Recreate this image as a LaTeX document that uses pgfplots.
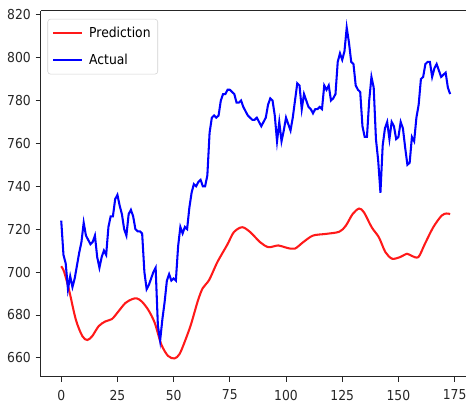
\documentclass[border=0pt]{standalone}
\usepackage{fontspec}
\setmainfont{DejaVu Sans}[FakeStretch=0.9]
\usepackage{pgfplots}
\pgfplotsset{compat=1.18}
\definecolor{spine}{HTML}{262626}
\begin{document}
\begin{tikzpicture}
\begin{axis}[
  scale only axis,
  width=309.6pt, height=266.4pt,
  xmin=-9.2, xmax=179.9, ymin=651.2, ymax=821.8,
  axis x line*=box, axis y line*=left,
  axis line style={spine, line width=0.6pt},
  xtick pos=bottom, ytick pos=left,
  xtick={0,25,...,175}, ytick={660,680,...,820},
  tick align=outside, major tick length=3.6pt,
  tick style={spine, line width=0.6pt},
  /pgf/number format/assume math mode=true,
  ticklabel style={font=\fontsize{10}{12}\selectfont, text=spine},
  xticklabel style={yshift=-2.5pt},
  legend style={at={(axis description cs:0.0163,0.978)}, anchor=north west,
    draw=gray!35, fill=white, fill opacity=0.8, text opacity=1,
    rounded corners=2pt, font=\fontsize{10}{12}\selectfont,
    inner xsep=3.2pt, inner ysep=3.8pt, row sep=6.2pt},
  legend cell align=left,
  legend image code/.code={\draw[#1] (0pt,0pt) -- (21pt,0pt); \path (23.5pt,0pt);},
]
\addplot[red!90!white, line width=1.5pt, smooth, tension=0.5] coordinates {
(0,702.7) (1.3,700.1) (3.5,691.6) (6.5,677.8) (9.4,670.1) (11.6,668.3) (13.8,670.1) (16.7,674.8) (19.7,677) (22.6,678.1) (25.5,681.7) (28.5,685.5) (31.4,687.3) (33.6,687.7) (35.8,686.3) (38.7,682.4) (41.6,676.3) (44.5,666.3) (47.5,660.9) (50.4,659.7) (52.6,661.7) (54.8,667.1) (57.7,675.5) (60.7,686.3) (62.9,692.4) (65.8,696.3) (69.5,704.7) (73.9,712.8) (76.8,718.6) (80.5,720.9) (84.1,718.6) (88.5,713.9) (92.2,711.6) (96.6,712.4) (100.3,711.3) (103.9,710.9) (107.6,713.9) (112,717) (117.9,717.8) (123.7,718.8) (126.6,721.6) (129.6,727) (132.5,729.6) (134.7,727.8) (138.1,720.9) (141.3,716.2) (144.2,709.3) (147.2,706.2) (150.8,707) (153.8,708.5) (156,707.5) (158.9,707) (161.8,713.2) (165.5,720.9) (169.2,726.3) (171.4,727.3) (173,727)
};
\addlegendentry{Prediction}
\addplot[blue, line width=1.5pt] coordinates {
(0,724) (1,708) (2,704) (3,692) (4,698) (5,693) (6,697) (7,703) (8,709) (9,714)
(10,723) (11,717) (12,715) (13,713) (14,714) (15,717) (16,707) (17,702) (18,707) (19,710)
(20,708) (21,721) (22,726) (23,726) (24,734) (25,736) (26,731) (27,727) (28,720) (29,717)
(30,727) (31,729) (32,726) (33,720) (34,719) (35,719) (36,718) (37,700) (38,692) (39,694)
(40,697) (41,700) (42,702) (43,675) (44,668) (45,678) (46,686) (47,696) (48,699) (49,696)
(50,697) (51,696) (52,712) (53,721) (54,718) (55,721) (56,720) (57,730) (58,737) (59,741)
(60,740) (61,742) (62,743) (63,740) (64,740) (65,745) (66,765) (67,772) (68,773) (69,772)
(70,773) (71,780) (72,783) (73,783) (74,785) (75,785) (76,784) (77,783) (78,779) (79,779)
(80,780) (81,777) (82,775) (83,773) (84,772) (85,771) (86,771) (87,772) (88,770) (89,768)
(90,770) (91,772) (92,778) (93,781) (94,780) (95,773) (96,761) (97,770) (98,761) (99,766)
(100,772) (101,769) (102,766) (103,772) (104,780) (105,788) (106,787) (107,776) (108,783) (109,780)
(110,777) (111,776) (112,774) (113,776) (114,776) (115,777) (116,776) (117,787) (118,785) (119,787)
(120,780) (121,781) (122,783) (123,798) (124,802) (125,799) (126,803) (127,814) (128,807) (129,798)
(130,797) (131,787) (132,785) (133,784) (134,768) (135,763) (136,763) (137,780) (138,791) (139,786)
(140,762) (141,752) (142,737) (143,759) (144,767) (145,770) (146,762) (147,770) (148,768) (149,762)
(150,763) (151,770) (152,767) (153,758) (154,750) (155,751) (156,763) (157,761) (158,772) (159,778)
(160,790) (161,791) (162,797) (163,798) (164,798) (165,791) (166,795) (167,797) (168,794) (169,791)
(170,792) (171,793) (172,786) (173,783)
};
\addlegendentry{Actual}
\end{axis}
\path (current axis.south west) ++(-29.52pt,-20.16pt) coordinate (bbA);
\path (current axis.north east) ++(0pt,7.92pt) coordinate (bbB);
\path[use as bounding box] (bbA) rectangle (bbB);
\end{tikzpicture}
\end{document}
